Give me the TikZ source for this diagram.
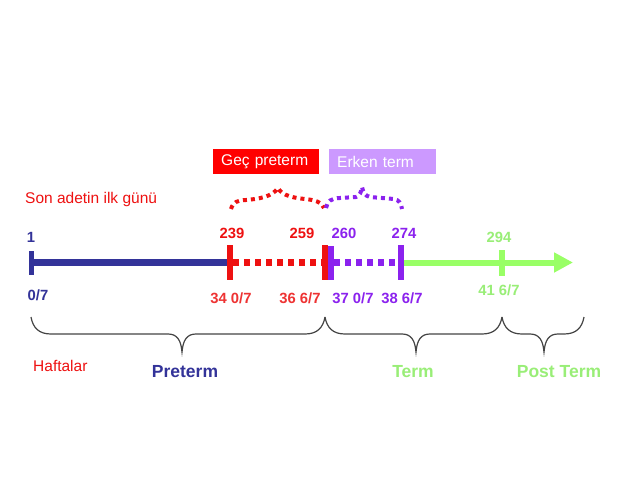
\documentclass[tikz,border=0pt]{standalone}
\usepackage{fontspec}
\setmainfont{Liberation Sans}
\usetikzlibrary{arrows.meta}
\definecolor{navy}{HTML}{333399}
\definecolor{tred}{HTML}{EE1111}
\definecolor{lred}{HTML}{EE3333}
\definecolor{tpurple}{HTML}{8B22EE}
\definecolor{lilac}{HTML}{CC99FF}
\definecolor{tgreen}{HTML}{99FF66}
\definecolor{lgreen}{HTML}{99EE77}
\definecolor{bracegray}{HTML}{444444}
\newcommand{\mybrace}[3]{%
 \draw[bracestyle] (#1,317) .. controls (#1+2,328) and (#1+8,334) .. (#1+20,334) -- (#2-14,334) .. controls (#2-5,334) and (#2-1,340) .. (#2,352) .. controls (#2+1,340) and (#2+5,334) .. (#2+14,334) -- (#3-20,334) .. controls (#3-8,334) and (#3-2,328) .. (#3,317);}
\tikzset{
 num/.style={anchor=base, inner sep=0pt, font=\fontsize{14.8}{17}\selectfont\bfseries},
 plain/.style={anchor=base west, inner sep=0pt, font=\fontsize{15.5}{18}\selectfont},
 cat/.style={anchor=base, inner sep=0pt, font=\fontsize{17.5}{20}\selectfont\bfseries},
 tagbox/.style={anchor=west, minimum height=25pt, inner xsep=8pt, inner ysep=0pt, align=left, text=white, font=\fontsize{15.5}{18}\selectfont},
 tick/.style={line width=6pt},
 dots/.style={line width=7pt, dash pattern=on 6pt off 5pt},
 bracedots/.style={line width=4pt, dash pattern=on 4pt off 4pt},
 bracestyle/.style={draw=bracegray, line width=1.2pt}
}
\begin{document}
\begin{tikzpicture}[x=1pt,y=-1pt]
\useasboundingbox (0,0) rectangle (638,479);
\fill[white] (0,0) rectangle (638,479);
% tick coordinates
\coordinate (b0) at (31,262.5);
\coordinate (r1) at (230,262.5);
\coordinate (r2) at (325,262.5);
\coordinate (p1) at (331,262.5);
\coordinate (p2) at (401,262.5);
\coordinate (g1) at (502,262.5);
\coordinate (gend) at (573,262.5);
% lines
\draw[navy, line width=7pt] (b0) -- (r1);
\draw[tred, dots] ([xshift=3pt]r1) -- (r2);
\draw[tpurple, dots] ([xshift=3pt]p1) -- (p2);
\draw[tgreen, line width=6pt, -{Triangle[length=19pt,width=19pt]}] (p2) -- (gend);
% ticks
\draw[navy, line width=5pt] (31,251) -- (31,275);
\draw[tred, tick] (230,245) -- (230,280);
\draw[tred, tick] (325,245) -- (325,280);
\draw[tpurple, tick] (331,246) -- (331,280);
\draw[tpurple, tick] (401,245) -- (401,280);
\draw[tgreen, tick] (502,250) -- (502,276);
% numbers
\node[num, navy] (n1) at (31,242) {1};
\node[num, tred] (n239) at (232,238) {239};
\node[num, tred] (n259) at (302,238) {259};
\node[num, tpurple] (n260) at (344,238) {260};
\node[num, tpurple] (n274) at (404,238) {274};
\node[num, lgreen] (n294) at (499,242) {294};
\node[num, navy] (w0) at (38,300) {0/7};
\node[num, lred] (w34) at (231,303) {34 0/7};
\node[num, lred] (w36) at (300,303) {36 6/7};
\node[num, tpurple] (w37) at (353,303) {37 0/7};
\node[num, tpurple] (w38) at (402,303) {38 6/7};
\node[num, lgreen] (w41) at (499,295) {41 6/7};
% tag boxes
\node[tagbox, fill=red, text width=90pt] (gec) at (213,161.5) {Geç preterm};
\node[tagbox, fill=lilac, text width=91pt] (erken) at (329,161.5) {Erken term};
% dotted braces
\draw[tred, bracedots] (231,209) .. controls (233,202) and (238,200) .. (246,200) .. controls (258,199) and (272,197) .. (278,188) .. controls (282,196) and (295,198) .. (305,199) .. controls (315,200) and (322,202) .. (324,208);
\draw[tpurple, bracedots] (326,208) .. controls (327,201) and (332,198) .. (340,198) -- (356,197) .. controls (360,196) and (361,192) .. (362,187) .. controls (363,192) and (365,196) .. (370,197) -- (394,199) .. controls (399,200) and (401,203) .. (402,209);
% texts
\node[plain, tred] (son) at (25,203) {Son adetin ilk günü};
\node[plain, tred] (haf) at (33,371) {Haftalar};
% bottom braces
\mybrace{31}{182}{325}
\mybrace{325}{416}{502}
\mybrace{502}{544}{584}
\node[cat, navy] (pre) at (185,377) {Preterm};
\node[cat, lgreen] (term) at (413,377) {Term};
\node[cat, lgreen] (post) at (559,377) {Post Term};
\end{tikzpicture}
\end{document}
